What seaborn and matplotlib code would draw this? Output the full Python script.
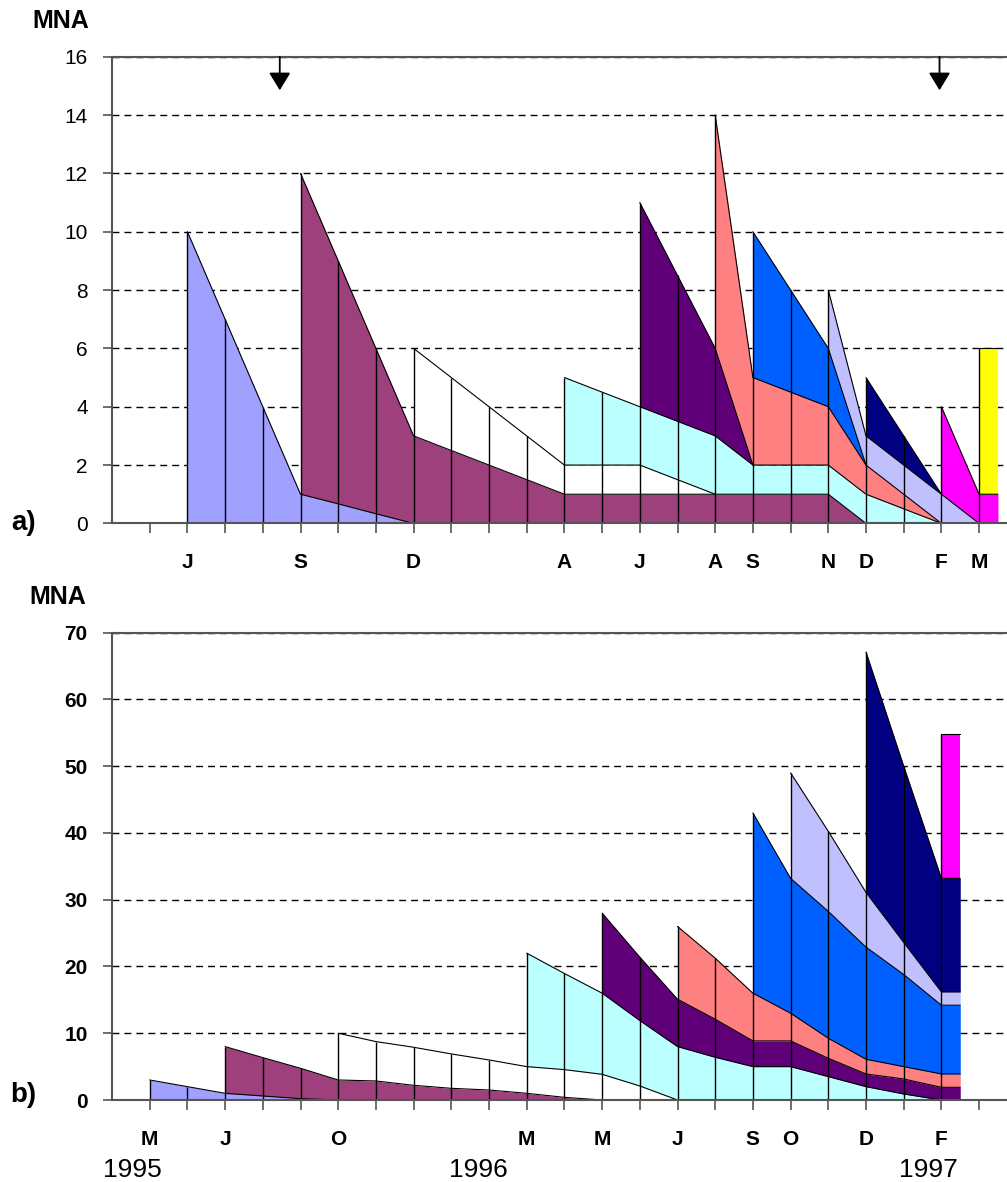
import numpy as np
import matplotlib
matplotlib.use("Agg")
import matplotlib.pyplot as plt
import seaborn as sns

# ---------------- data ----------------
# months run from May 1995 (index 0) to Mar 1997 (index 22)
a_tick_labels = ["", "J", "", "", "S", "", "", "D", "", "", "", "A", "",
                 "J", "", "A", "S", "", "N", "D", "", "F", "M"]
b_tick_labels = ["M", "", "J", "", "", "O", "", "", "", "", "M", "", "M",
                 "", "J", "", "S", "O", "", "D", "", "F", ""]
b_years = ["1995", "1996", "1997"]

# panel a: MNA of each cohort (start month index, then monthly values)
a_starts = [1, 4, 7, 11, 13, 15, 16, 18, 19, 21, 22]
a_c1 = [10, 7, 4, 1, 0.67, 0.33, 0]
a_c2 = [11, 8.33, 5.67, 3, 2.5, 2, 1.5, 1, 1, 1, 1, 1, 1, 1, 1, 0]
a_c3 = [3, 2.5, 2, 1.5, 1, 1, 1, 0.5, 0]
a_c4 = [3, 2.5, 2, 2, 2, 1, 1, 1, 1, 0.5, 0]
a_c5 = [7, 5, 3, 0]
a_c6 = [8, 3, 2.5, 2, 1, 0.5, 0]
a_c7 = [5, 3.5, 2, 0]
a_c8 = [2, 1, 1, 1, 0]
a_c9 = [2, 1, 0]
a_c10 = [3, 1]
a_c11 = [5]

# panel b
b_starts = [0, 2, 5, 10, 12, 14, 16, 17, 19, 21]
b_c1 = [3, 2, 1, 0.6, 0.2, 0]
b_c2 = [7, 5.75, 4.55, 3, 2.85, 2.2, 1.75, 1.5, 1.0, 0.4, 0]
b_c3 = [7, 5.9, 5.7, 5.15, 4.5, 4.0, 4.15, 3.85, 2.1, 0]
b_c4 = [17, 14.4, 12.15, 9.8, 8, 6.4, 5, 5, 3.5, 2, 0.9, 0]
b_c5 = [12, 9.5, 7.1, 5.7, 3.85, 3.85, 2.75, 1.9, 2.25, 1.9]
b_c6 = [10.9, 9.15, 7.15, 4.15, 3.0, 2.2, 1.85, 2.0]
b_c7 = [27, 20.2, 19, 16.8, 13.8, 10.3]
b_c8 = [15.8, 12, 8.2, 4.8, 2]
b_c9 = [36, 26.4, 17]
b_c10 = [21.7]

cohort_colors = ["#A0A0FF", "#9E407C", "#FFFFFF", "#BBFFFF", "#600078",
                 "#FF8080", "#0060FF", "#C0C0FF", "#000080", "#FF00FF", "#FFFF00"]

# ---------------- style ----------------
sns.set_theme(style="white")
plt.rcParams["font.family"] = ["Liberation Sans", "DejaVu Sans"]
plt.rcParams["text.color"] = "black"
plt.rcParams["xtick.color"] = "black"
plt.rcParams["ytick.color"] = "black"
plt.rcParams["xtick.labelcolor"] = "black"
plt.rcParams["ytick.labelcolor"] = "black"

W, H = 1007, 1182
fig = plt.figure(figsize=(W / 100, H / 100), dpi=100)

PX = 37.7          # pixels per month
X0 = 112           # pixel of left axis (month index -1)
xmax = -1 + (W - X0) / PX


def fx(px):
    return px / W


def fy(py):
    return 1 - py / H


ax_a = fig.add_axes([fx(X0), fy(523.4), 1 - fx(X0), (523.4 - 56.7) / H])
ax_b = fig.add_axes([fx(X0), fy(1100), 1 - fx(X0), (1100 - 632.7) / H])


def draw(ax, starts, layers, n):
    x = np.arange(n, dtype=float)
    mat = np.full((len(layers), n), np.nan)
    for i, (s, v) in enumerate(zip(starts, layers)):
        mat[i, s:s + len(v)] = v
    filled = np.nan_to_num(mat)
    cum = np.cumsum(filled, axis=0)
    below = cum - filled
    last = n - 1
    for i in range(len(layers)):
        idx = np.where(~np.isnan(mat[i]))[0]
        xs = x[idx]
        lo = below[i, idx]
        hi = cum[i, idx]
        if idx[-1] == last and mat[i, last] > 0:
            xs = np.append(xs, last + 0.5)
            lo = np.append(lo, lo[-1])
            hi = np.append(hi, hi[-1])
        ax.fill_between(xs, lo, hi, color=cohort_colors[i], lw=0, zorder=2)
        sns.lineplot(x=xs, y=hi, ax=ax, color="black", lw=0.8, zorder=3,
                     sort=False, estimator=None)
    total = cum[-1]
    m = total > 0
    ax.vlines(x[m], 0, total[m], color="black", lw=1.0, zorder=3)


draw(ax_a, a_starts, [a_c1, a_c2, a_c3, a_c4, a_c5, a_c6, a_c7, a_c8, a_c9, a_c10, a_c11], 23)
draw(ax_b, b_starts, [b_c1, b_c2, b_c3, b_c4, b_c5, b_c6, b_c7, b_c8, b_c9, b_c10], 22)

spine_c = "#555555"
for ax, ymax, step, labels in [(ax_a, 16, 2, a_tick_labels), (ax_b, 70, 10, b_tick_labels)]:
    ax.set_xlim(-1, xmax)
    ax.set_ylim(0, ymax)
    ax.set_yticks(np.arange(0, ymax + 1, step))
    ax.set_xticks(np.arange(23))
    ax.set_xticklabels(labels)
    ax.set_axisbelow(True)
    ax.yaxis.grid(True, color="black", lw=1.0, linestyle=(0, (5, 3.6)))
    ax.xaxis.grid(False)
    for s in ["left", "bottom", "top"]:
        ax.spines[s].set_visible(True)
        ax.spines[s].set_color(spine_c)
        ax.spines[s].set_linewidth(1.5)
        ax.spines[s].set_zorder(4)
    ax.spines["right"].set_visible(False)
    ax.tick_params(axis="y", direction="out", length=6.5, width=1.2, color=spine_c,
                   pad=11, left=True, labelcolor="black")
    ax.tick_params(axis="x", direction="out", length=7.5, width=1.2, color=spine_c,
                   pad=14, bottom=True, labelcolor="black")
    ax.set_xlabel("")
    ax.set_ylabel("")

for t in ax_a.get_xticklabels():
    t.set_fontsize(15)
    t.set_fontweight("bold")
for t in ax_a.get_yticklabels():
    t.set_fontsize(15)
for t in ax_b.get_xticklabels() + ax_b.get_yticklabels():
    t.set_fontsize(15)
    t.set_fontweight("bold")

# arrows marking events on panel a
for xa in (3.45, 20.95):
    ax_a.annotate("", xy=(xa, 14.85), xytext=(xa, 16),
                  arrowprops=dict(arrowstyle="-|>,head_length=0.9,head_width=0.55",
                                  color="black", lw=1.3, mutation_scale=12,
                                  shrinkA=0, shrinkB=0), zorder=5)

fig.text(fx(61), fy(21), "MNA", fontsize=18, fontweight="bold", ha="center", va="center")
fig.text(fx(58), fy(597), "MNA", fontsize=18, fontweight="bold", ha="center", va="center")
fig.text(fx(24), fy(523), "a)", fontsize=20, fontweight="bold", ha="center", va="center")
fig.text(fx(23), fy(1095), "b)", fontsize=20, fontweight="bold", ha="center", va="center")
for yr, xp in zip(b_years, (132, 478, 928)):
    fig.text(fx(xp), fy(1170), yr, fontsize=19, ha="center", va="center")

fig.savefig("out.png", dpi=100)
